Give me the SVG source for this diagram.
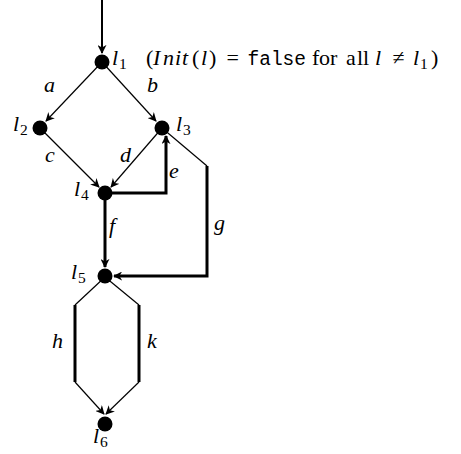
<svg xmlns="http://www.w3.org/2000/svg" width="461" height="454" viewBox="0 0 461 454">
<style>
.t{font-family:"Liberation Serif",serif;font-size:22px;font-style:italic;fill:#000}
.r{font-family:"Liberation Serif",serif;font-size:22px;font-style:normal;fill:#000}
.s{font-family:"Liberation Serif",serif;font-size:15.5px;font-style:normal}
.m{font-family:"Liberation Mono",monospace;font-size:19.5px;font-style:normal;fill:#000}
.thin{stroke:#000;stroke-width:1.2;fill:none}
.thick{stroke:#000;stroke-width:3;fill:none}
.n{fill:#000}
</style>
<defs>
<marker id="ah" viewBox="0 0 10 10" refX="9" refY="5" markerWidth="9" markerHeight="9" markerUnits="userSpaceOnUse" orient="auto">
<path d="M0,0 L10,5 L0,10 L3,5 z" fill="#000"/>
</marker>
</defs>
<g id="connectors">
<line class="thin" x1="102" y1="0" x2="102" y2="53" style="stroke-width:2" marker-end="url(#ah)"/>
<line class="thin" x1="102" y1="62" x2="46" y2="121" marker-end="url(#ah)"/>
<line class="thin" x1="102" y1="62" x2="156" y2="121" marker-end="url(#ah)"/>
<line class="thin" x1="40" y1="128" x2="99" y2="187" marker-end="url(#ah)"/>
<line class="thin" x1="162" y1="128" x2="111" y2="187" marker-end="url(#ah)"/>
<polyline class="thick" points="105,193 166,193 166,136" marker-end="url(#ah)"/>
<polyline class="thin" points="162,128 207,166"/>
<polyline class="thick" points="207,166 207,276 114,276" marker-end="url(#ah)"/>
<line class="thick" x1="105" y1="193" x2="105" y2="267" marker-end="url(#ah)"/>
<polyline class="thin" points="105,277 75,305"/>
<line class="thick" x1="75" y1="305" x2="75" y2="382"/>
<line class="thin" x1="75" y1="382" x2="104" y2="414" marker-end="url(#ah)"/>
<polyline class="thin" points="105,277 139,305"/>
<line class="thick" x1="139" y1="305" x2="139" y2="382"/>
<line class="thin" x1="139" y1="382" x2="106" y2="414" marker-end="url(#ah)"/>
</g>
<g id="l1"><circle class="n" cx="102" cy="62" r="7.5"/><text class="t" x="112" y="65">l<tspan class="s" x="119" dy="3.5">1</tspan></text></g>
<g id="l2"><circle class="n" cx="40" cy="128" r="7.5"/><text class="t" x="13" y="131">l<tspan class="s" x="20" dy="3.5">2</tspan></text></g>
<g id="l3"><circle class="n" cx="162" cy="128" r="7.5"/><text class="t" x="176" y="131">l<tspan class="s" x="183" dy="3.5">3</tspan></text></g>
<g id="l4"><circle class="n" cx="105" cy="193" r="7.5"/><text class="t" x="74" y="196">l<tspan class="s" x="81" dy="3.5">4</tspan></text></g>
<g id="l5"><circle class="n" cx="105" cy="276" r="7.5"/><text class="t" x="71" y="279">l<tspan class="s" x="78" dy="3.5">5</tspan></text></g>
<g id="l6"><circle class="n" cx="105" cy="424" r="7.5"/><text class="t" x="93" y="443">l<tspan class="s" x="100" dy="3.5">6</tspan></text></g>
<g id="labels">
<text class="r" y="65"><tspan x="146">(</tspan><tspan class="t" x="153 163 175 182">Init</tspan><tspan x="192">(</tspan><tspan class="t" x="201">l</tspan><tspan x="209">)</tspan><tspan x="226.5">=</tspan><tspan class="m" x="247.5">false</tspan><tspan x="312 319 330">for</tspan><tspan x="346 357 363">all</tspan><tspan class="t" x="375">l</tspan><tspan x="392.5">≠</tspan><tspan class="t" x="413">l</tspan><tspan class="s" x="420" dy="3.5">1</tspan><tspan x="431" dy="-3.5">)</tspan></text>
<text class="t" x="44" y="92">a</text>
<text class="t" x="147" y="92">b</text>
<text class="t" x="45" y="162">c</text>
<text class="t" x="120" y="162">d</text>
<text class="t" x="169" y="178">e</text>
<text class="t" x="109" y="233">f</text>
<text class="t" x="214" y="230">g</text>
<text class="t" x="52" y="348">h</text>
<text class="t" x="147" y="348">k</text>
</g>
</svg>
